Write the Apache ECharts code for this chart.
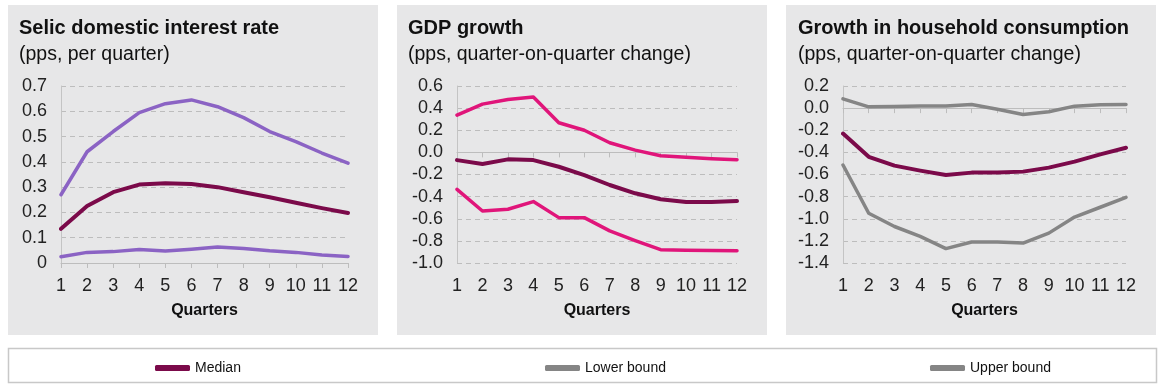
<!DOCTYPE html>
<html>
<head>
<meta charset="utf-8">
<script src="https://cdn.jsdelivr.net/npm/echarts@6/dist/echarts.min.js"></script>
<style>html,body{margin:0;padding:0;background:#fff}#c{width:1165px;height:390px}</style>
</head>
<body>
<div id="c"></div>
<script>
var quarters = ['1','2','3','4','5','6','7','8','9','10','11','12'];

var selicMedian = [0.135,0.225,0.28,0.31,0.315,0.312,0.30,0.28,0.26,0.238,0.217,0.198];
var selicLower  = [0.025,0.042,0.045,0.053,0.047,0.054,0.063,0.057,0.048,0.042,0.032,0.026];
var selicUpper  = [0.27,0.44,0.52,0.595,0.63,0.645,0.618,0.575,0.52,0.48,0.435,0.395];

var gdpMedian = [-0.07,-0.105,-0.063,-0.07,-0.13,-0.205,-0.295,-0.37,-0.424,-0.448,-0.448,-0.44];
var gdpLower  = [-0.334,-0.53,-0.514,-0.445,-0.59,-0.59,-0.71,-0.797,-0.88,-0.884,-0.887,-0.89];
var gdpUpper  = [0.337,0.436,0.478,0.50,0.268,0.20,0.087,0.02,-0.03,-0.045,-0.057,-0.066];

var consMedian = [-0.23,-0.44,-0.52,-0.565,-0.605,-0.583,-0.583,-0.574,-0.538,-0.484,-0.418,-0.358];
var consLower  = [-0.514,-0.95,-1.07,-1.16,-1.27,-1.21,-1.21,-1.22,-1.13,-0.985,-0.896,-0.806];
var consUpper  = [0.084,0.012,0.015,0.02,0.02,0.033,-0.01,-0.057,-0.033,0.018,0.03,0.033];

var panelTitles = ['Selic domestic interest rate','GDP growth','Growth in household consumption'];
var panelSubtitles = ['(pps, per quarter)','(pps, quarter-on-quarter change)','(pps, quarter-on-quarter change)'];
var yMins = [0,-1.0,-1.4], yMaxs = [0.7,0.6,0.2], yIntervals = [0.1,0.2,0.2];

var FONT = '"Liberation Sans", Arial, Helvetica, sans-serif';
var cMedian = '#7b0a4a', cPurple = '#8b63c4', cPink = '#e0157a', cGray = '#858585';

var panels = [{x:8,w:370},{x:397,w:370},{x:786,w:370}];
var grids = [{left:61,width:287},{left:457,width:280},{left:843,width:283}];
var titleX = [19,408,798];
var bandColors = [cPurple,cPink,cGray];
var dataSets = [[selicMedian,selicLower,selicUpper],[gdpMedian,gdpLower,gdpUpper],[consMedian,consLower,consUpper]];

var chart = echarts.init(document.getElementById('c'));
var option = {
  animation:false,
  backgroundColor:'#fff',
  graphic: panels.map(function(p){
    return {type:'rect',z:-10,shape:{x:p.x,y:5,width:p.w,height:330},style:{fill:'#e7e7e8'},silent:true};
  }).concat([{type:'rect',z:-10,shape:{x:8.5,y:348.5,width:1148,height:34},style:{fill:'#fff',stroke:'#c8c8c8',lineWidth:1.5},silent:true}]),
  title: [].concat(panelTitles.map(function(t,i){
    return {text:t,left:titleX[i],top:18,padding:0,textStyle:{fontFamily:FONT,fontWeight:'bold',fontSize:20,color:'#111'}};
  }), panelSubtitles.map(function(t,i){
    return {text:t,left:titleX[i],top:45,padding:0,textStyle:{fontFamily:FONT,fontWeight:'normal',fontSize:19.5,color:'#111'}};
  })),
  legend: [
    {left:150,top:356,data:[{name:'Median',itemStyle:{color:cMedian}}]},
    {left:540,top:356,data:[{name:'Lower bound',itemStyle:{color:cGray}}]},
    {left:925,top:356,data:[{name:'Upper bound',itemStyle:{color:cGray}}]}
  ].map(function(l){
    l.icon='roundRect'; l.itemWidth=35; l.itemHeight=6; l.itemGap=8;
    l.textStyle={fontFamily:FONT,fontSize:14,color:'#111'};
    return l;
  }),
  grid: grids.map(function(g){return {left:g.left,width:g.width,top:86,height:177};}),
  xAxis: grids.map(function(g,i){
    return {type:'category',gridIndex:i,data:quarters,boundaryGap:false,
      axisLine:{lineStyle:{color:'#bdbdbd',width:1}},
      axisTick:{show:true,lineStyle:{color:'#bdbdbd'},length:5,alignWithLabel:true},
      axisLabel:{fontFamily:FONT,fontSize:18,color:'#222',margin:14,interval:0},
      name:'Quarters',nameLocation:'middle',nameGap:40,
      nameTextStyle:{fontFamily:FONT,fontWeight:'bold',fontSize:16,color:'#111'}};
  }),
  yAxis: grids.map(function(g,i){
    return {type:'value',gridIndex:i,min:yMins[i],max:yMaxs[i],interval:yIntervals[i],
      axisLine:{show:true,lineStyle:{color:'#c4c4c4'}},
      axisTick:{show:false},
      splitLine:{show:true,lineStyle:{color:'#bdbdbd',type:[5,4],width:1}},
      axisLabel:{fontFamily:FONT,fontSize:18,color:'#222',margin:14,
        formatter:function(v){ if(i===0) return v===0?'0':(+v.toFixed(1)).toString(); return v.toFixed(1); }}};
  }),
  series: []
};
var names = ['Median','Lower bound','Upper bound'];
dataSets.forEach(function(ds,i){
  ds.forEach(function(arr,j){
    option.series.push({type:'line',name:names[j],xAxisIndex:i,yAxisIndex:i,data:arr,
      symbol:'none',smooth:false,
      lineStyle:{width:j===0?4:3.5,color:j===0?cMedian:bandColors[i],cap:'round',join:'round'},
      itemStyle:{color:j===0?cMedian:bandColors[i]},z:j===0?3:2});
  });
});
chart.setOption(option);
</script>
</body>
</html>
